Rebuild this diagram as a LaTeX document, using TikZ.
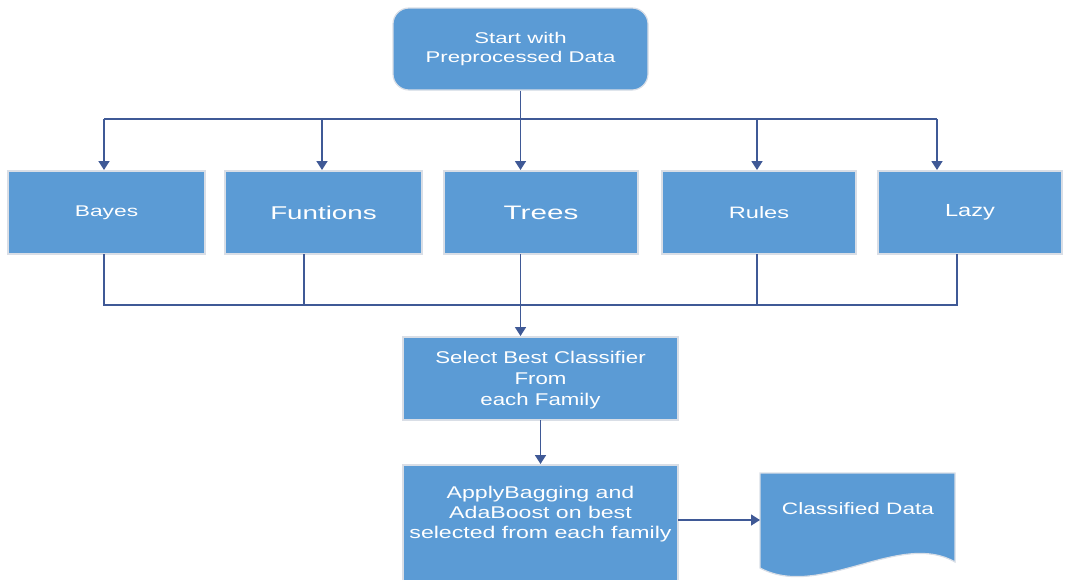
\documentclass[tikz,border=0pt]{standalone}
\usepackage{fontspec}
\setmainfont{Liberation Sans}
\usetikzlibrary{arrows.meta}
\definecolor{boxblue}{HTML}{5B9BD5}
\definecolor{lineblue}{HTML}{3F5996}
\definecolor{edgegray}{HTML}{D9DEE6}
\newcommand{\tfont}[3]{\fontsize{#1}{#2}\selectfont\addfontfeature{FakeStretch=#3}}
\begin{document}
\begin{tikzpicture}[x=1pt,y=-1pt,
  box/.style={draw=edgegray,line width=1.2pt,fill=boxblue,text=white,align=center,inner sep=0pt},
  conn/.style={draw=lineblue,line width=1.7pt},
  arr/.style={conn,-{Triangle[width=11pt,length=9pt]}}]
\useasboundingbox (0,0) rectangle (1068,579);
% start
\node[box,rounded corners=16pt,minimum width=255pt,minimum height=82pt,font=\tfont{15.5}{19}{1.43}] (start) at (520.5,49) {Start with\\Preprocessed Data};
% row
\node[box,minimum width=197pt,minimum height=83pt,font=\tfont{15.5}{18}{1.47}] (bayes) at (106.5,212.5) {Bayes};
\node[box,minimum width=197pt,minimum height=83pt,font=\tfont{18.5}{21}{1.5}] (fun) at (323.5,212.5) {Funtions};
\node[box,minimum width=194pt,minimum height=83pt,font=\tfont{19.5}{22}{1.52}] (trees) at (541,212.5) {Trees};
\node[box,minimum width=194pt,minimum height=83pt,font=\tfont{16.5}{19}{1.43}] (rules) at (759,212.5) {Rules};
\node[box,minimum width=184pt,minimum height=83pt,font=\tfont{17.5}{20}{1.35}] (lazy) at (970,212.5) {Lazy};
% select
\node[box,minimum width=275pt,minimum height=83pt,font=\tfont{17}{21}{1.31}] (sel) at (540.5,378.5) {};
\node[text=white,align=center,font=\tfont{17}{21}{1.31}] (selt) at (540.5,380.5) {Select Best Classifier\\From\\each Family};
% apply
\node[box,minimum width=275pt,minimum height=118pt] (apply) at (540.5,524) {};
\node[text=white,align=center,font=\tfont{17}{20}{1.36}] (applyt) at (540.5,514) {ApplyBagging and\\AdaBoost on best\\selected from each family};
% document
\path[draw=edgegray,line width=1.2pt,fill=boxblue] (760,473) -- (955,473) -- (955,562) .. controls (900,530) and (820,600) .. (760,568) -- cycle;
\coordinate (docw) at (760,520);
\node[text=white,font=\tfont{16.5}{19}{1.37}] (doc) at (858,509) {Classified Data};
% top distribution
\coordinate (tb) at (520.5,119);
\draw[conn] (start.south) -- (tb);
\draw[conn] (104,119) -- (937,119);
\draw[arr] (104,119) -- (104,170);
\draw[arr] (322,119) -- (322,170);
\draw[arr] (tb) -- (520.5,170);
\draw[arr] (757,119) -- (757,170);
\draw[arr] (937,119) -- (937,170);
% bottom collection
\draw[conn] (104,254) -- (104,305) -- (957,305) -- (957,254);
\draw[conn] (304,254) -- (304,305);
\draw[conn] (757,254) -- (757,305);
\draw[arr] (520.5,254) -- (520.5,336);
% select to apply
\coordinate (sb) at (540.5,420);
\draw[arr] (sb) -- (540.5,464);
% apply to doc
\coordinate (ae) at (678,520);
\draw[arr] (ae) -- (docw);
\end{tikzpicture}
\end{document}
